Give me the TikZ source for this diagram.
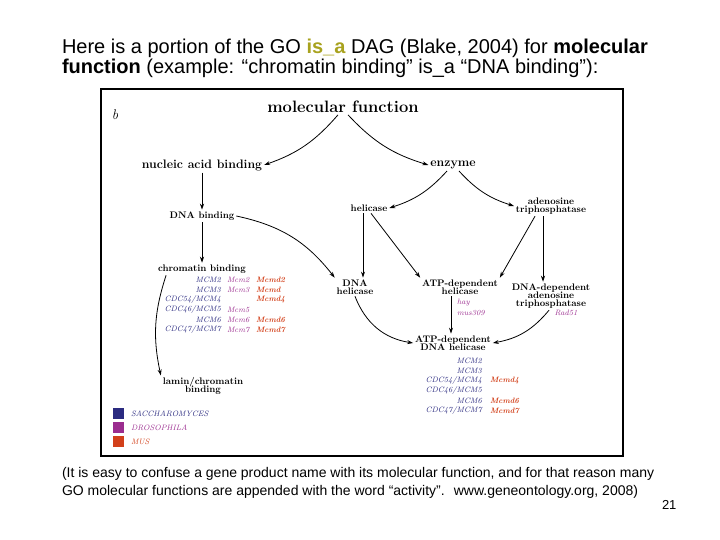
\documentclass[tikz,border=0pt]{standalone}
\usepackage{fontspec}
\newfontfamily\arial{Liberation Sans}
\usepackage{xcolor}
\usetikzlibrary{arrows.meta,positioning,calc}
\definecolor{sacc}{HTML}{2B2B80}
\definecolor{dros}{HTML}{9B2D8F}
\definecolor{mus}{HTML}{D2401A}
\definecolor{isa}{HTML}{A8A21E}
\begin{document}
\begin{tikzpicture}[x=1pt,y=-1pt,every node/.style={outer sep=1pt,inner sep=1pt}]
\tikzstyle{term}=[font=\fontsize{9.5}{10}\selectfont\bfseries,align=center]
\tikzstyle{big}=[font=\fontsize{12.3}{14}\selectfont\bfseries]
\tikzstyle{gene}=[font=\fontsize{7.8}{9}\selectfont\itshape,inner sep=0pt]
\tikzstyle{isa}=[-{Stealth[length=6pt,width=4pt]},thick]
\tikzstyle{head}=[font=\arial\fontsize{20}{22}\selectfont,anchor=west,inner sep=0pt]
\useasboundingbox (0,0) rectangle (720,540);
%
\node (l1) [head] at (61,48) {Here is a portion of the GO \textcolor{isa}{\bfseries is\_a} DAG (Blake, 2004) for \textbf{molecular}};
\node (l2) [head] at (61,68) {\textbf{function} (example: “chromatin binding” is\_a “DNA binding”):};
\draw [line width=2.5pt] (101,89) rectangle (623,456);
\node (b) [font=\fontsize{14}{14}\selectfont\itshape] at (115,115) {b};
%
\node (mf) [font=\fontsize{16.5}{18}\selectfont\bfseries] at (343,107) {molecular function};
\node (nab) [big] at (202,165) {nucleic acid binding};
\node (enz) [big] at (453,165) {enzyme};
\node (dnab) [term] at (202,216) {DNA binding};
\node (hel) [term] at (369,208) {helicase};
\node (atpase) [term] at (551,206) {adenosine\\[-2pt]triphosphatase};
\node (chb) [term] at (202,269) {chromatin binding};
\node (dnah) [term] at (355,287) {DNA\\[-2pt]helicase};
\node (atph) [term] at (460,287) {ATP-dependent\\[-2pt]helicase};
\node (dnaatp) [term] at (551,296) {DNA-dependent\\[-2pt]adenosine\\[-2pt]triphosphatase};
\node (atpdh) [term] at (453,343) {ATP-dependent\\[-2pt]DNA helicase};
\node (lamin) [term] at (203,386) {lamin/chromatin\\[-2pt]binding};
%
\foreach \g/\d/\m [count=\i] in {{MCM2}/{Mcm2}/{Mcmd2},{MCM3}/{Mcm3}/{Mcmd},{CDC54/MCM4}/{}/{Mcmd4},{CDC46/MCM5}/{Mcm5}/{},{MCM6}/{Mcm6}/{Mcmd6},{CDC47/MCM7}/{Mcm7}/{Mcmd7}}{
  \node (cg\i) [gene,anchor=east,text=sacc] at (222,270+10*\i) {\g};
  \node (cd\i) [gene,anchor=west,text=dros] at (226,270+10*\i) {\d};
  \node (cm\i) [gene,anchor=west,text=mus,font=\fontsize{7.8}{9}\selectfont\bfseries\itshape] at (255,270+10*\i) {\m};
}
\foreach \g/\m [count=\i] in {{MCM2}/{},{MCM3}/{},{CDC54/MCM4}/{Mcmd4},{CDC46/MCM5}/{},{MCM6}/{Mcmd6},{CDC47/MCM7}/{Mcmd7}}{
  \node (hg\i) [gene,anchor=east,text=sacc] at (483,351+10*\i) {\g};
  \node (hm\i) [gene,anchor=west,text=mus,font=\fontsize{7.8}{9}\selectfont\bfseries\itshape] at (489,351+10*\i) {\m};
}
\node (hay) [gene,anchor=west,text=dros] at (456,303) {hay};
\node (mus309) [gene,anchor=west,text=dros] at (456,313) {mus309};
\node (rad) [gene,text=dros] at (566,313) {Rad51};
%
\foreach \c/\t [count=\i] in {sacc/SACCHAROMYCES,dros/DROSOPHILA,mus/MUS}{
  \fill [\c] (113,394+14*\i) rectangle ++(11,11);
  \node (leg\i) [gene,anchor=west,text=\c] at (130,399.5+14*\i) {\t};
}
%
\draw [isa] (mf.south) ++(-5,0) to[bend left=15] (nab.east);
\draw [isa] (mf.south) ++(5,0) to[bend right=15] (enz.west);
\draw [isa] (nab) -- (dnab);
\draw [isa] (dnab) -- (chb);
\draw [isa] (enz.south) ++(-6,0) to[bend left=15] (hel.east);
\draw [isa] (enz.south) ++(6,0) to[bend right=15] (atpase.west);
\draw [isa] (dnab.east) to[bend left=20] (dnah.north west);
\draw [isa] (hel.south) ++(-6,0) -- (dnah.north -| 363,0);
\draw [isa] (hel.south) ++(2,0) -- (atph.north west);
\draw [isa] (atpase.south) ++(-16,0) -- (atph.north east);
\draw [isa] (atpase.south) ++(-8,0) -- (dnaatp.north -| 543,0);
\draw [isa] (chb.south west) ++(10,0) to[bend right=15] (lamin.north west);
\draw [isa] (dnah.south) to[bend right=30] (atpdh.west);
\draw [isa] (atph.south -| 451,0) -- (atpdh.north -| 451,0);
\draw [isa] (dnaatp.south) ++(-2,0) to[bend left=20] (atpdh.east);
%
\node (f1) [head,font=\arial\fontsize{14}{14}\selectfont] at (61,474) {(It is easy to confuse a gene product name with its molecular function, and for that reason many};
\node (f2) [head,font=\arial\fontsize{14}{14}\selectfont] at (61,492) {GO molecular functions are appended with the word “activity”. \ www.geneontology.org, 2008)};
\node (pg) [head,font=\arial\fontsize{13}{14}\selectfont] at (661,505) {21};
\end{tikzpicture}
\end{document}
